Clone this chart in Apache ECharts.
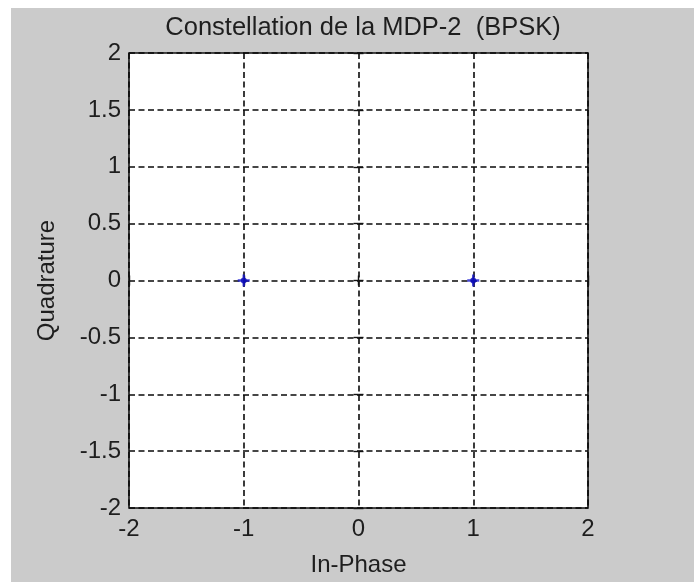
<!DOCTYPE html>
<html>
<head>
<meta charset="utf-8">
<script src="https://cdn.jsdelivr.net/npm/echarts@6/dist/echarts.min.js"></script>
<style>
  html, body { margin: 0; padding: 0; background: #ffffff; }
  #chart { width: 694px; height: 582px; }
</style>
</head>
<body>
<div id="chart"></div>
<script>
// BPSK constellation: symbol positions in the I/Q plane
const inPhase = [-1, 1];
const quadrature = [0, 0];

// Axis ranges and tick spacing
const xTicks = [-2, -1, 0, 1, 2];
const yTicks = [-2, -1.5, -1, -0.5, 0, 0.5, 1, 1.5, 2];

const titleText = 'Constellation de la MDP-2  (BPSK)';
const xName = 'In-Phase';
const yName = 'Quadrature';

const points = inPhase.map((v, i) => [v, quadrature[i]]);

const FONT = '"Liberation Sans", Arial, sans-serif';
const TXT = '#1e1e1e';
const gridDash = { color: '#0a0a0a', width: 1.6, type: [6, 3.5] };

function axisBase(ticks, extra) {
  return Object.assign({
    type: 'value',
    min: ticks[0],
    max: ticks[ticks.length - 1],
    interval: ticks[1] - ticks[0],
    axisLine: { show: false },
    axisTick: { show: true, inside: true, length: 5, lineStyle: { color: '#111', width: 1.4 } },
    splitLine: { show: false },
    axisLabel: { show: false }
  }, extra);
}

const chart = echarts.init(document.getElementById('chart'), null, { renderer: 'canvas' });

chart.setOption({
  animation: false,
  backgroundColor: '#ffffff',
  graphic: [{
    type: 'rect',
    z: -100,
    silent: true,
    shape: { x: 11, y: 8, width: 683, height: 574 },
    style: { fill: '#cbcbcb' }
  }],
  title: {
    text: titleText,
    left: 358,
    top: 10,
    textAlign: 'center',
    textStyle: { fontFamily: FONT, fontSize: 25.5, fontWeight: 'normal', color: TXT }
  },
  grid: {
    left: 129, top: 53, width: 459, height: 458,
    show: true,
    backgroundColor: '#ffffff',
    borderColor: '#111111',
    borderWidth: 1.6
  },
  xAxis: [
    axisBase(xTicks, {
      position: 'bottom',
      splitLine: { show: true, lineStyle: gridDash },
      axisLabel: { show: true, margin: 9, fontFamily: FONT, fontSize: 24, color: TXT },
      name: xName,
      nameLocation: 'middle',
      nameGap: 45,
      nameTextStyle: { fontFamily: FONT, fontSize: 24, color: TXT }
    }),
    axisBase(xTicks, { position: 'top' })
  ],
  yAxis: [
    axisBase(yTicks, {
      position: 'left',
      splitLine: { show: true, lineStyle: gridDash },
      axisLabel: { show: true, margin: 8, fontFamily: FONT, fontSize: 24, color: TXT },
      name: yName,
      nameLocation: 'middle',
      nameRotate: 90,
      nameGap: 70,
      nameTextStyle: { fontFamily: FONT, fontSize: 24, color: TXT }
    }),
    axisBase(yTicks, { position: 'right' })
  ],
  series: [
    {
      type: 'scatter',
      data: points,
      symbol: 'path://M4,0h2v4h4v2h-4v4h-2v-4h-4v-2h4z',
      symbolSize: 12,
      itemStyle: { color: '#1a1ad0' },
      z: 5
    },
    {
      type: 'scatter',
      data: points,
      symbol: 'circle',
      symbolSize: 6,
      itemStyle: { color: '#0a0ab8' },
      z: 6
    }
  ]
});
</script>
</body>
</html>
